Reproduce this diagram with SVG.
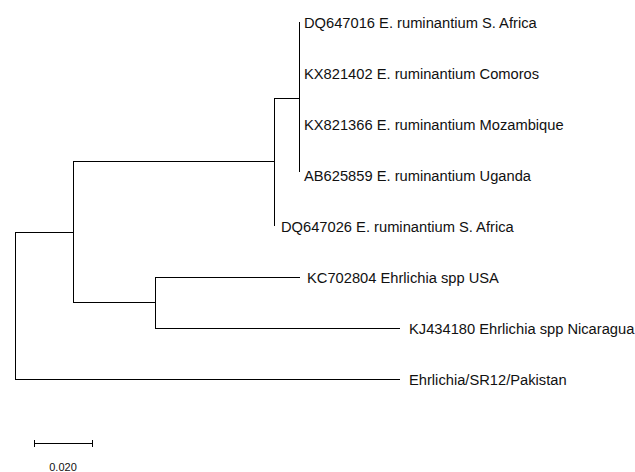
<svg xmlns="http://www.w3.org/2000/svg" width="635" height="472" viewBox="0 0 635 472">
<style>
.t{font-family:"Liberation Sans",Arial,sans-serif;font-size:14.7px;fill:#111}
.s{font-family:"Liberation Sans",Arial,sans-serif;font-size:11px;fill:#111}
.e{stroke:#000;stroke-width:1;fill:none;shape-rendering:crispEdges}
</style>
<rect width="635" height="472" fill="#fff"/>
<g id="edges" class="e">
<path d="M299.5 22V172"/>
<path d="M274 98.5H299.5"/>
<path d="M274.5 98V226"/>
<path d="M73 161.5H274.5"/>
<path d="M73.5 161V302"/>
<path d="M15 232.5H73.5"/>
<path d="M73 302.5H155.5"/>
<path d="M155.5 277V328"/>
<path d="M155 277.5H300"/>
<path d="M155 328.5H400"/>
<path d="M15.5 232V379"/>
<path d="M15 379.5H400"/>
</g>
<g id="leaf1"><text class="t" x="304" y="28">DQ647016 E. ruminantium S. Africa</text></g>
<g id="leaf2"><text class="t" x="304" y="79">KX821402 E. ruminantium Comoros</text></g>
<g id="leaf3"><text class="t" x="304" y="130">KX821366 E. ruminantium Mozambique</text></g>
<g id="leaf4"><text class="t" x="304" y="181">AB625859 E. ruminantium Uganda</text></g>
<g id="leaf5"><text class="t" x="281" y="232">DQ647026 E. ruminantium S. Africa</text></g>
<g id="leaf6"><text class="t" x="307" y="283">KC702804 Ehrlichia spp USA</text></g>
<g id="leaf7"><text class="t" x="409" y="334">KJ434180 Ehrlichia spp Nicaragua</text></g>
<g id="leaf8"><text class="t" x="409" y="385">Ehrlichia/SR12/Pakistan</text></g>
<g id="scale">
<path class="e" d="M34 443.5H93M34.5 440V447M92.5 440V447"/>
<text class="s" x="63" y="471" text-anchor="middle">0.020</text>
</g>
</svg>
